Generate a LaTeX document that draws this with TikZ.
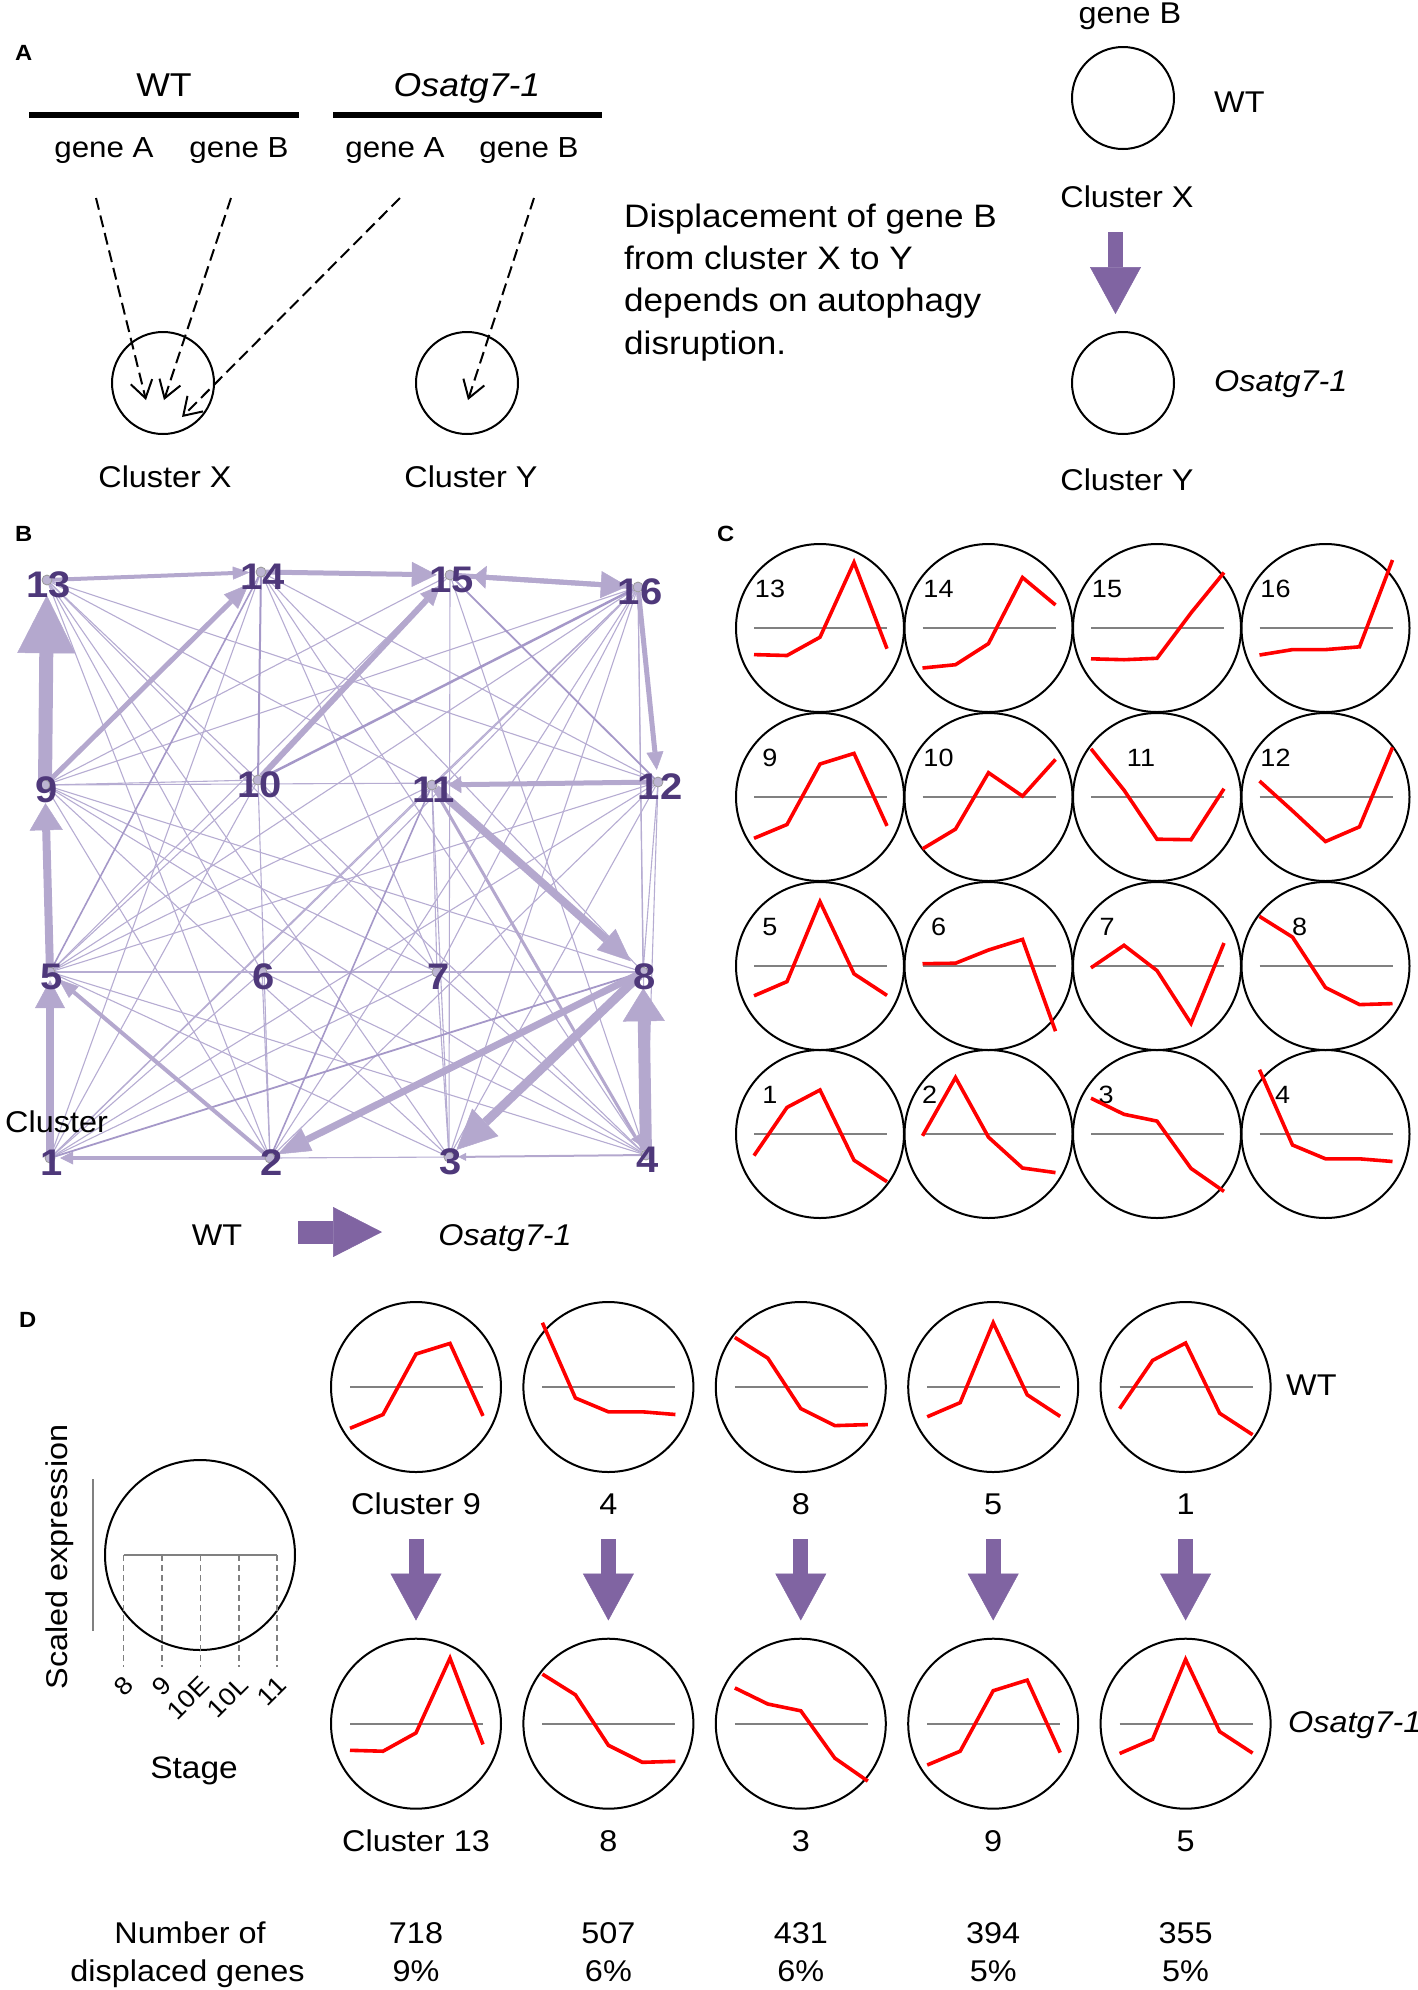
\documentclass[tikz,border=0pt]{standalone}
\usepackage{fontspec}
\setmainfont{Liberation Sans}[FakeStretch=1.08]
\usetikzlibrary{arrows.meta}
\definecolor{arrowpurple}{RGB}{128,100,162}
\definecolor{edgep}{RGB}{180,168,206}
\definecolor{edgethin}{RGB}{182,172,210}
\definecolor{edgemed}{RGB}{165,152,200}
\definecolor{labp}{RGB}{78,56,122}
\definecolor{dotp}{RGB}{188,180,210}
\definecolor{redp}{RGB}{255,0,0}
\definecolor{graylinec}{RGB}{128,128,128}
\newcommand\fsz[1]{\fontsize{#1}{#1}\selectfont}
% profile macros
\newcommand\prof[6]{%
  \begin{scope}[shift={(#1.center)}]
    \draw[grayln] (-66,0) -- (67,0);
    \draw[redln] (-66,#2) -- (-33,#3) -- (0,#4) -- (34,#5) -- (67,#6);
  \end{scope}}
\newcommand\pfone[1]{\prof{#1}{21.6}{-26.6}{-44}{26.2}{47.7}}
\newcommand\pftwo[1]{\prof{#1}{1.8}{-56.5}{3.2}{34}{38.6}}
\newcommand\pfthree[1]{\prof{#1}{-35.8}{-19.7}{-12.9}{34.4}{57.4}}
\newcommand\pffour[1]{\prof{#1}{-64.3}{11}{24.8}{24.8}{27.5}}
\newcommand\pffive[1]{\prof{#1}{29.8}{15.6}{-64.3}{7.8}{29.4}}
\newcommand\pfsix[1]{\prof{#1}{-2.3}{-2.8}{-16}{-26.6}{65.2}}
\newcommand\pfseven[1]{\prof{#1}{1.8}{-20.7}{4.6}{57.4}{-23}}
\newcommand\pfeight[1]{\prof{#1}{-49.6}{-28.9}{21.6}{38.6}{37.6}}
\newcommand\pfnine[1]{\prof{#1}{41.3}{27.5}{-33}{-43.6}{28.9}}
\newcommand\pften[1]{\prof{#1}{51.9}{32.1}{-24.3}{-0.9}{-37.6}}
\newcommand\pfeleven[1]{\prof{#1}{-48.2}{-6.9}{42.2}{42.7}{-8.3}}
\newcommand\pftwelve[1]{\prof{#1}{-16}{13.8}{44.5}{29.8}{-49.6}}
\newcommand\pfthirteen[1]{\prof{#1}{26.6}{27.5}{9.2}{-65.6}{20.7}}
\newcommand\pffourteen[1]{\prof{#1}{40}{36.7}{15.6}{-50.5}{-23}}
\newcommand\pffifteen[1]{\prof{#1}{30.8}{31.7}{30.3}{-15.1}{-55.5}}
\newcommand\pfsixteen[1]{\prof{#1}{27}{21.6}{21.6}{18.8}{-68}}
\begin{document}
\begin{tikzpicture}[x=1pt,y=-1pt,
  txt/.style={inner sep=0pt, font=\fsz{30}},
  ttl/.style={inner sep=0pt, font=\fsz{33}},
  gene/.style={inner sep=0pt, font=\fsz{29}, anchor=base},
  plab/.style={inner sep=0pt, anchor=base west, font=\fsz{22}\bfseries},
  clu/.style={circle, draw, line width=2pt, minimum size=102pt, inner sep=0pt},
  ccirc/.style={circle, draw, line width=2pt, minimum size=168pt, inner sep=0pt},
  dcirc/.style={circle, draw, line width=2pt, minimum size=170pt, inner sep=0pt},
  cnum/.style={inner sep=0pt, font=\fsz{25}, anchor=base},
  grayln/.style={draw=graylinec, line width=1.8pt},
  redln/.style={draw=redp, line width=3.6pt},
  dasharrow/.style={draw=black, line width=2pt, dash pattern=on 12pt off 6pt,
     -{Straight Barb[length=17pt,width=22pt]}},
  bigarrow/.style={draw=arrowpurple, line width=15pt,
     -{Triangle[width=51pt,length=47pt,line width=0.5pt]}},
  bnode/.style={circle, minimum size=10pt, inner sep=0pt},
  bdot/.style={draw=gray!80, fill=dotp, line width=0.8pt},
  blab/.style={inner sep=0pt, anchor=base, text=labp, font=\fsz{37}\bfseries},
  thinedge/.style={draw=edgethin, line width=1.1pt},
  mededge/.style={draw=edgemed, line width=#1pt},
  thk/.style n args={4}{draw=edgep, line width=#1pt,
     -{Triangle[width=#2pt,length=#3pt,line width=0.5pt]}, shorten >=#4pt},
  dashv/.style={draw=graylinec, line width=1.5pt, dash pattern=on 6pt off 4pt},
  stg/.style={inner sep=0pt, font=\fsz{25}, rotate=45, anchor=east}
]
\useasboundingbox (0,0) rectangle (1417,1990);

% ================= Panel A =================
\node[plab] (labA) at (15,60) {A};
\node[ttl, anchor=base] (wt) at (164,96) {WT};
\node[ttl, anchor=base] (mu) at (467,96) {\itshape Osatg7-1};
\draw[line width=6.7pt] (29,115) -- (299,115);
\draw[line width=6.7pt] (333,115) -- (602,115);
\node[gene] (wtA) at (104,157.5) {gene A};
\node[gene] (wtB) at (239,157.5) {gene B};
\node[gene] (muA) at (395,157.5) {gene A};
\node[gene] (muB) at (529,157.5) {gene B};
\node[clu] (cx) at (163,383) {};
\node[clu] (cy) at (467,383) {};
\node[txt, anchor=base] (cxl) at (165,487.5) {Cluster X};
\node[txt, anchor=base] (cyl) at (471,487.5) {Cluster Y};
\coordinate (s1) at (96,198);
\coordinate (s2) at (231,198);
\coordinate (s3) at (400,198);
\coordinate (s4) at (534,198);
\coordinate (t1) at (146,400);
\coordinate (t2) at (164,400);
\coordinate (t3) at (182,417);
\coordinate (t4) at (468,400);
\draw[dasharrow] (s1) -- (t1);
\draw[dasharrow] (s2) -- (t2);
\draw[dasharrow] (s3) -- (t3);
\draw[dasharrow] (s4) -- (t4);

\node[txt, anchor=base west] (d1) at (624,227) {\fsz{32.5}Displacement of gene B};
\node[txt, anchor=base west] (d2) at (624,269) {\fsz{32.5}from cluster X to Y};
\node[txt, anchor=base west] (d3) at (624,311.5) {\fsz{32.5}depends on autophagy};
\node[txt, anchor=base west] (d4) at (624,354) {\fsz{32.5}disruption.};

\node[txt, anchor=base] (gB) at (1130,23) {gene B};
\node[clu] (rx) at (1123,98) {};
\node[txt, anchor=base west] (rwt) at (1214,112.7) {WT};
\node[txt, anchor=base] (rcx) at (1127,207) {Cluster X};
\coordinate (ra1) at (1115.5,232);
\coordinate (ra2) at (1115.5,314);
\draw[bigarrow] (ra1) -- (ra2);
\node[clu] (ry) at (1123,383) {};
\node[txt, anchor=base west] (rmu) at (1214,391) {\itshape Osatg7-1};
\node[txt, anchor=base] (rcy) at (1127,490.8) {Cluster Y};

% ================= Panel B =================
\node[plab] (labB) at (15,541) {B};
\foreach \n/\x/\y in {1/50/1158, 2/270/1158, 3/449/1157, 4/646/1155,
                      5/50/972, 6/262/972, 7/437/972, 8/643/972,
                      9/45/785, 10/258/780, 11/432/785, 12/658/782,
                      13/47/580, 14/261/572, 15/450/575, 16/638/587}
  {\node[bnode] (n\n) at (\x,\y) {};}

% thin edges
\foreach \a/\b in {13/10, 13/11, 13/12, 13/6, 13/2, 13/3, 13/7,
                   14/12, 14/8, 14/1, 14/7, 14/4,
                   15/9, 15/4, 15/3, 15/5,
                   16/9, 16/5, 16/1, 16/2, 16/3, 16/7, 16/11, 16/8, 16/4, 16/6,
                   9/10, 9/4, 9/3, 9/8, 9/7, 9/2,
                   10/5, 10/1, 10/4, 10/2,
                   11/7, 11/1, 11/5, 11/3,
                   12/5, 12/2, 12/3, 12/8, 12/4, 12/1, 12/9,
                   5/8, 5/4, 5/3,
                   6/2, 6/4, 6/1,
                   7/3, 7/4, 7/1,
                   8/5, 3/2}
  {\draw[thinedge] (n\a) -- (n\b);}
% medium edges
\draw[mededge=2.5] (n10) -- (n16);
\draw[mededge=2] (n14) -- (n10);
\draw[mededge=1.6] (n14) -- (n5);
\draw[mededge=1.8] (n15) -- (n12);
\draw[mededge=1.6] (n11) -- (n2);
\draw[mededge=1.8] (n8) -- (n1);
% thick edges
\draw[thk={14}{58}{58}{10}] (n9) -- (n13);
\draw[thk={8}{33}{27}{13}] (n5) -- (n9);
\draw[thk={8}{30}{28}{3}] (n1) -- (n5);
\draw[thk={12}{42}{33}{11}] (n4) -- (n8);
\draw[thk={5}{17}{18}{7}] (n16) -- (n12);
\draw[thk={5}{17}{13}{11}] (n12) -- (n11);
\draw[thk={8}{28}{33}{11}] (n11) -- (n8);
\draw[thk={9}{38}{40}{5}] (n8) -- (n3);
\draw[thk={7}{25}{33}{3}] (n8) -- (n2);
\draw[thk={4}{15}{20}{6}] (n2) -- (n5);
\draw[thk={4}{13}{13}{5}] (n2) -- (n1);
\draw[thk={5}{20}{25}{12}] (n9) -- (n14);
\draw[thk={6}{18}{20}{9}] (n10) -- (n15);
\draw[thk={4}{13}{17}{6}] (n13) -- (n14);
\draw[thk={5}{25}{25}{8}] (n14) -- (n15);
\draw[thk={5}{23}{13}{18}] (n16) -- (n15);
\draw[thk={5}{27}{27}{5}] (n15) -- (n16);
\draw[thk={3}{10}{10}{6}] (n11) -- (n4);
\draw[thk={2}{8}{8}{4}] (n4) -- (n3);
% dots and labels
\foreach \n in {1,...,16} {\draw[bdot] (n\n.center) circle[radius=5];}
\foreach \n/\x/\y in {1/50/1158, 2/270/1158, 3/449/1157, 4/646/1155,
                      5/50/972, 6/262/972, 7/437/972, 8/643/972,
                      9/45/785, 10/258/780, 11/432/785, 12/658/782,
                      13/47/580, 14/261/572, 15/450/575, 16/638/587}
  {\node[blab] (l\n) at (\x+2,\y+17) {\n};}
\node[txt, anchor=base west] (bclu) at (5,1132) {Cluster};
\node[txt, anchor=base] (bwt) at (217,1245) {WT};
\node[txt, anchor=base] (bmu) at (505,1245) {\itshape Osatg7-1};
\coordinate (ba1) at (298,1232);
\coordinate (ba2) at (382,1232);
\draw[draw=arrowpurple, line width=23pt,
      -{Triangle[width=50pt,length=49pt,line width=0.5pt]}] (ba1) -- (ba2);

% ================= Panel C =================
\node[plab] (labC) at (717,541) {C};
\foreach \n/\x/\y/\dx in {13/820/628/-50, 14/988.5/628/-50, 15/1157/628/-50, 16/1325.5/628/-50,
                          9/820/797/-50, 10/988.5/797/-50, 11/1157/797/-16, 12/1325.5/797/-50,
                          5/820/966/-50, 6/988.5/966/-50, 7/1157/966/-50, 8/1325.5/966/-26,
                          1/820/1134/-50, 2/988.5/1134/-59, 3/1157/1134/-51, 4/1325.5/1134/-43}
  {\node[ccirc] (c\n) at (\x,\y) {};
   \node[cnum] (cl\n) at (\x+\dx,\y-31) {\n};}
\pfthirteen{c13}\pffourteen{c14}\pffifteen{c15}\pfsixteen{c16}
\pfnine{c9}\pften{c10}\pfeleven{c11}\pftwelve{c12}
\pffive{c5}\pfsix{c6}\pfseven{c7}\pfeight{c8}
\pfone{c1}\pftwo{c2}\pfthree{c3}\pffour{c4}

% ================= Panel D =================
\node[plab] (labD) at (19,1327.5) {D};
% schematic
\node[circle, draw, line width=2pt, minimum size=190pt, inner sep=0pt] (sch) at (200,1555) {};
\draw[draw=graylinec, line width=2pt] (92.9,1479) -- (92.9,1631);
\draw[grayln] (123.7,1555) -- (276.8,1555);
\foreach \x/\t/\nm in {123.7/8/sa, 162/9/sb, 200.4/10E/sc, 238.8/10L/sd, 276.8/11/se}
  {\draw[dashv] (\x,1555) -- (\x,1667);
   \node[stg] (\nm) at (\x+5,1681) {\t};}
\node[txt, rotate=90] (sexp) at (60,1557) {Scaled expression};
\node[txt, anchor=base] (stage) at (194,1778) {\fsz{31}Stage};

% WT row
\node[dcirc] (dw1) at (416,1387) {};
\node[dcirc] (dw2) at (608.4,1387) {};
\node[dcirc] (dw3) at (800.8,1387) {};
\node[dcirc] (dw4) at (993.2,1387) {};
\node[dcirc] (dw5) at (1185.6,1387) {};
\pfnine{dw1}\pffour{dw2}\pfeight{dw3}\pffive{dw4}\pfone{dw5}
\node[txt, anchor=base west] (dwt) at (1286,1395.5) {WT};
% mutant row
\node[dcirc] (dm1) at (416,1723.7) {};
\node[dcirc] (dm2) at (608.4,1723.7) {};
\node[dcirc] (dm3) at (800.8,1723.7) {};
\node[dcirc] (dm4) at (993.2,1723.7) {};
\node[dcirc] (dm5) at (1185.6,1723.7) {};
\pfthirteen{dm1}\pfeight{dm2}\pfthree{dm3}\pfnine{dm4}\pffive{dm5}
\node[txt, anchor=base west] (dmu) at (1288,1732.8) {\itshape Osatg7-1};

\foreach \i/\x/\a/\b/\c/\p in {1/416/Cluster 9/Cluster 13/718/9\%,
                                2/608.4/4/8/507/6\%,
                                3/800.8/8/3/431/6\%,
                                4/993.2/5/9/394/5\%,
                                5/1185.6/1/5/355/5\%}
  {\node[txt, anchor=base] (dwl\i) at (\x,1514.5) {\a};
   \node[txt, anchor=base] (dml\i) at (\x,1851.4) {\b};
   \coordinate (da\i) at (\x,1539);
   \coordinate (db\i) at (\x,1620.5);
   \draw[bigarrow] (da\i) -- (db\i);
   \node[txt, anchor=base] (num\i) at (\x,1943.3) {\c};
   \node[txt, anchor=base] (pct\i) at (\x,1981.9) {\p};}
\node[txt, anchor=base] (nof) at (190,1943.3) {Number of};
\node[txt, anchor=base] (dg) at (187.5,1981.9) {displaced genes};
\end{tikzpicture}
\end{document}
